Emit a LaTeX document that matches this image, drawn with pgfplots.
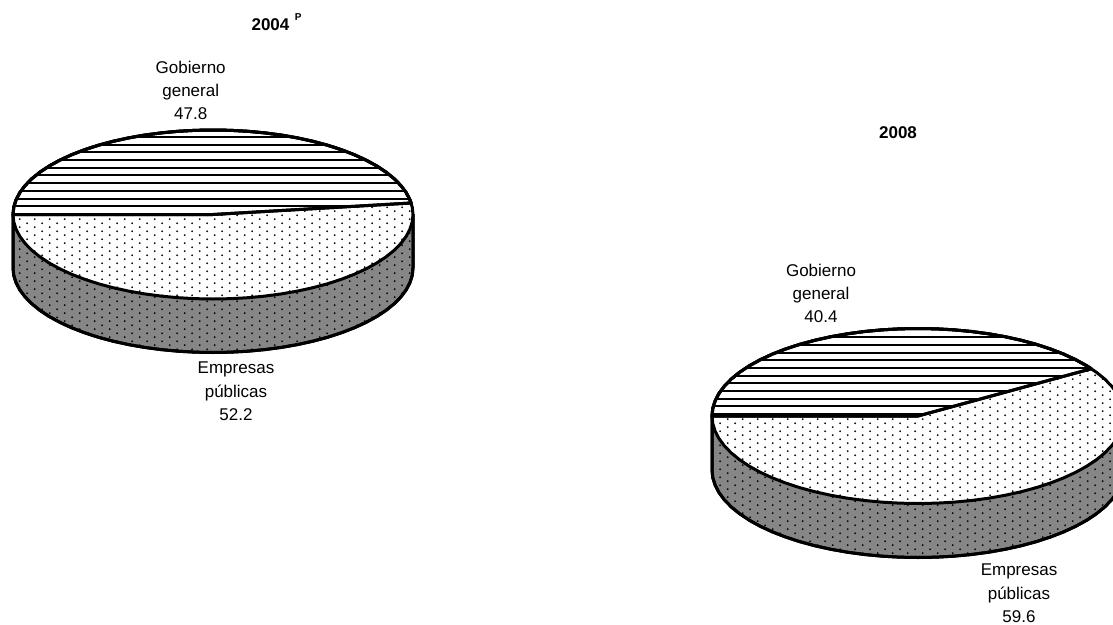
\documentclass[border=0pt]{standalone}
\usepackage{fontspec}
\setmainfont{Liberation Sans}
\usepackage{pgfplots}
\usepackage{pgfplotstable}
\pgfplotsset{compat=1.18}
\usetikzlibrary{patterns}

% staggered dot raster and horizontal stripes, 1pt = 1px of the reference
\pgfdeclarepatternformonly{rasterdots}{\pgfqpoint{0pt}{0pt}}{\pgfqpoint{15.4pt}{7.7pt}}{\pgfqpoint{15.4pt}{7.7pt}}{
  \pgfpathcircle{\pgfqpoint{4.9pt}{2pt}}{1.05pt}
  \pgfpathcircle{\pgfqpoint{12.6pt}{5.9pt}}{1.05pt}
  \pgfusepath{fill}}
\pgfdeclarepatternformonly{rasterlines}{\pgfqpoint{-1pt}{0pt}}{\pgfqpoint{11pt}{7.7pt}}{\pgfqpoint{10pt}{7.7pt}}{
  \pgfpathrectangle{\pgfqpoint{-1pt}{0.9pt}}{\pgfqpoint{12pt}{2pt}}
  \pgfusepath{fill}}
\tikzset{lab/.style={font=\fontsize{17}{20}\selectfont, anchor=base, inner sep=0pt},
  hed/.style={font=\fontsize{17}{20}\selectfont\bfseries, anchor=base, inner sep=0pt}}

% unit ellipse, 180 deg over the top and back
\pgfplotstableread{
u v
-1 0
-.9962 -.0872
-.9848 -.1736
-.9659 -.2588
-.9397 -.3420
-.9063 -.4226
-.8660 -.5
-.8192 -.5736
-.7660 -.6428
-.7071 -.7071
-.6428 -.7660
-.5736 -.8192
-.5 -.8660
-.4226 -.9063
-.3420 -.9397
-.2588 -.9659
-.1736 -.9848
-.0872 -.9962
0 -1
.0872 -.9962
.1736 -.9848
.2588 -.9659
.3420 -.9397
.4226 -.9063
.5 -.8660
.5736 -.8192
.6428 -.7660
.7071 -.7071
.7660 -.6428
.8192 -.5736
.8660 -.5
.9063 -.4226
.9397 -.3420
.9659 -.2588
.9848 -.1736
.9962 -.0872
1 0
.9962 .0872
.9848 .1736
.9659 .2588
.9397 .3420
.9063 .4226
.8660 .5
.8192 .5736
.7660 .6428
.7071 .7071
.6428 .7660
.5736 .8192
.5 .8660
.4226 .9063
.3420 .9397
.2588 .9659
.1736 .9848
.0872 .9962
0 1
-.0872 .9962
-.1736 .9848
-.2588 .9659
-.3420 .9397
-.4226 .9063
-.5 .8660
-.5736 .8192
-.6428 .7660
-.7071 .7071
-.7660 .6428
-.8192 .5736
-.8660 .5
-.9063 .4226
-.9397 .3420
-.9659 .2588
-.9848 .1736
-.9962 .0872
}\rimtable

% wall: d=1 rows are moved down by the depth of the pie
\pgfplotstableread{
u v d
-1 0 0
-1 0 1
-.9962 .0872 1
-.9848 .1736 1
-.9659 .2588 1
-.9397 .3420 1
-.9063 .4226 1
-.8660 .5 1
-.8192 .5736 1
-.7660 .6428 1
-.7071 .7071 1
-.6428 .7660 1
-.5736 .8192 1
-.5 .8660 1
-.4226 .9063 1
-.3420 .9397 1
-.2588 .9659 1
-.1736 .9848 1
-.0872 .9962 1
0 1 1
.0872 .9962 1
.1736 .9848 1
.2588 .9659 1
.3420 .9397 1
.4226 .9063 1
.5 .8660 1
.5736 .8192 1
.6428 .7660 1
.7071 .7071 1
.7660 .6428 1
.8192 .5736 1
.8660 .5 1
.9063 .4226 1
.9397 .3420 1
.9659 .2588 1
.9848 .1736 1
.9962 .0872 1
1 0 1
1 0 0
}\walltable

% Gobierno general slice of each pie
\pgfplotstableread{
u v
-1 0
-.9962 -.0872
-.9848 -.1736
-.9659 -.2588
-.9397 -.3420
-.9063 -.4226
-.8660 -.5
-.8192 -.5736
-.7660 -.6428
-.7071 -.7071
-.6428 -.7660
-.5736 -.8192
-.5 -.8660
-.4226 -.9063
-.3420 -.9397
-.2588 -.9659
-.1736 -.9848
-.0872 -.9962
0 -1
.0872 -.9962
.1736 -.9848
.2588 -.9659
.3420 -.9397
.4226 -.9063
.5 -.8660
.5736 -.8192
.6428 -.7660
.7071 -.7071
.7660 -.6428
.8192 -.5736
.8660 -.5
.9063 -.4226
.9397 -.3420
.9659 -.2588
.9848 -.1736
.9907 -.136
0 0
}\sliceA
\pgfplotstableread{
u v
-1 0
-.9962 -.0872
-.9848 -.1736
-.9659 -.2588
-.9397 -.3420
-.9063 -.4226
-.8660 -.5
-.8192 -.5736
-.7660 -.6428
-.7071 -.7071
-.6428 -.7660
-.5736 -.8192
-.5 -.8660
-.4226 -.9063
-.3420 -.9397
-.2588 -.9659
-.1736 -.9848
-.0872 -.9962
0 -1
.0872 -.9962
.1736 -.9848
.2588 -.9659
.3420 -.9397
.4226 -.9063
.5 -.8660
.5736 -.8192
.6428 -.7660
.7071 -.7071
.7660 -.6428
.8192 -.5736
.8415 -.54
0 0
}\sliceB

% cx cy rx ry depth slice
\newcommand{\cake}[6]{
  \addplot[draw=black, line width=3pt, line join=round, preaction={fill=gray!95!white}, pattern=rasterdots]
    table[x expr={#1+#3*\thisrow{u}}, y expr={#2+#4*\thisrow{v}+#5*\thisrow{d}}] {\walltable} -- cycle;
  \addplot[draw=none, preaction={fill=white}, pattern=rasterdots]
    table[x expr={#1+#3*\thisrow{u}}, y expr={#2+#4*\thisrow{v}}] {\rimtable} -- cycle;
  \addplot[draw=black, line width=3pt, line join=round, preaction={fill=white}, pattern=rasterlines]
    table[x expr={#1+#3*\thisrow{u}}, y expr={#2+#4*\thisrow{v}}] {#6} -- cycle;
  \addplot[draw=black, line width=3pt, line join=round]
    table[x expr={#1+#3*\thisrow{u}}, y expr={#2+#4*\thisrow{v}}] {\rimtable} -- cycle;
}

\begin{document}
\begin{tikzpicture}
\path[use as bounding box] (0,0) rectangle (1113pt,624pt);
\begin{axis}[
  at={(0,0)}, anchor=south west,
  hide axis, scale only axis,
  width=1113pt, height=624pt,
  xmin=0, xmax=1113, ymin=0, ymax=624,
  y dir=reverse,
  clip mode=individual,
]
\cake{213}{214.5}{200}{84.5}{53.5}{\sliceA}
\cake{918}{416}{206}{87.5}{54}{\sliceB}

\node[hed] at (axis cs:270.5,30) {2004};
\node[hed, font=\fontsize{10}{12}\selectfont\bfseries] at (axis cs:298.3,20) {P};
\node[lab] at (axis cs:190.7,73.5) {Gobierno};
\node[lab] at (axis cs:190.7,96.5) {general};
\node[lab] at (axis cs:190.7,119.5) {47.8};
\node[lab] at (axis cs:236,373.5) {Empresas};
\node[lab] at (axis cs:236,397) {públicas};
\node[lab] at (axis cs:236,420.5) {52.2};

\node[hed] at (axis cs:898,138.5) {2008};
\node[lab] at (axis cs:821,276) {Gobierno};
\node[lab] at (axis cs:821,299.5) {general};
\node[lab] at (axis cs:821,322) {40.4};
\node[lab] at (axis cs:1019,575.5) {Empresas};
\node[lab] at (axis cs:1019,599) {públicas};
\node[lab] at (axis cs:1019,622.5) {59.6};
\end{axis}
\end{tikzpicture}
\end{document}
